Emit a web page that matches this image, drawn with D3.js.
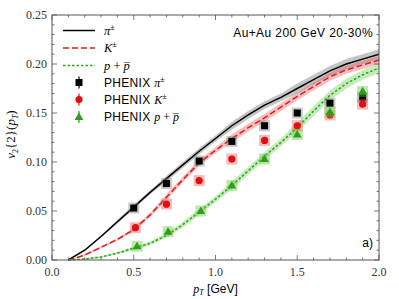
<!DOCTYPE html>
<html>
<head>
<meta charset="utf-8">
<script src="https://cdn.jsdelivr.net/npm/d3@7"></script>
<style>
  body { margin: 0; background: #fff; }
  svg text { fill: #000; }
</style>
</head>
<body>
<div id="chart"></div>
<script>
//curve grid (pT in GeV)
var ptGrid = [0.1, 0.2, 0.3, 0.4, 0.5, 0.6, 0.7, 0.8, 0.9, 1.0, 1.1, 1.2, 1.3, 1.4, 1.5, 1.6, 1.7, 1.8, 1.9, 2.0];

//hydro curves
var pionCurve   = [0.000, 0.010, 0.024, 0.039, 0.054, 0.069, 0.083, 0.097, 0.111, 0.124, 0.137, 0.148, 0.158, 0.166, 0.175, 0.184, 0.193, 0.200, 0.205, 0.210];
var kaonCurve   = [0.000, 0.005, 0.013, 0.021, 0.031, 0.046, 0.064, 0.082, 0.099, 0.112, 0.124, 0.135, 0.145, 0.156, 0.167, 0.177, 0.187, 0.194, 0.199, 0.204];
var protonCurve = [0.000, 0.001, 0.003, 0.007, 0.012, 0.017, 0.025, 0.036, 0.049, 0.062, 0.076, 0.091, 0.106, 0.120, 0.135, 0.152, 0.168, 0.180, 0.189, 0.196];

//band half widths
var pionBand   = [0.000, 0.001, 0.001, 0.002, 0.002, 0.002, 0.003, 0.003, 0.003, 0.003, 0.004, 0.004, 0.004, 0.004, 0.005, 0.005, 0.005, 0.005, 0.005, 0.005];
var kaonBand   = [0.000, 0.001, 0.001, 0.001, 0.002, 0.002, 0.003, 0.003, 0.003, 0.003, 0.004, 0.004, 0.004, 0.004, 0.004, 0.004, 0.004, 0.004, 0.004, 0.004];
var protonBand = [0.000, 0.001, 0.001, 0.001, 0.002, 0.002, 0.002, 0.003, 0.003, 0.003, 0.004, 0.004, 0.004, 0.004, 0.005, 0.005, 0.005, 0.005, 0.005, 0.005];

//PHENIX data
var pionPt   = [0.50, 0.70, 0.90, 1.10, 1.30, 1.50, 1.70, 1.90];
var pionV2   = [0.053, 0.078, 0.101, 0.121, 0.137, 0.150, 0.160, 0.166];
var kaonPt   = [0.51, 0.70, 0.90, 1.10, 1.30, 1.50, 1.70, 1.90];
var kaonV2   = [0.033, 0.057, 0.081, 0.103, 0.122, 0.137, 0.148, 0.159];
var protonPt = [0.52, 0.71, 0.91, 1.10, 1.30, 1.50, 1.70, 1.90];
var protonV2 = [0.014, 0.029, 0.050, 0.076, 0.103, 0.128, 0.151, 0.172];

//axis ticks
var xTicks = [0.0, 0.5, 1.0, 1.5, 2.0];
var yTicks = [0.00, 0.05, 0.10, 0.15, 0.20, 0.25];

var margin = {top: 15, right: 20, bottom: 39, left: 52};
var width = 399 - margin.left - margin.right;
var height = 299 - margin.top - margin.bottom;

var svg = d3.select("#chart").append("svg")
    .attr("width", 399)
    .attr("height", 299)
    .append("g")
    .attr("transform", "translate(" + margin.left + "," + margin.top + ")");

var x = d3.scaleLinear().domain([0, 2]).range([0, width]);
var y = d3.scaleLinear().domain([0, 0.25]).range([height, 0]);

var serif = "'Liberation Serif', 'DejaVu Serif', serif";
var sans = "'Liberation Sans', 'DejaVu Sans', sans-serif";

//curves with bands
var series = [
    {v: pionCurve, b: pionBand, color: "#000", band: "rgba(90,90,90,0.35)", dash: null, w: 1.5},
    {v: kaonCurve, b: kaonBand, color: "#dd1c1c", band: "rgba(230,70,70,0.35)", dash: "6,3", w: 1.5},
    {v: protonCurve, b: protonBand, color: "#33a51f", band: "rgba(90,200,60,0.35)", dash: "2.5,2", w: 1.6}
];

series.forEach(function(s) {
    var pts = ptGrid.map(function(p, i) { return {p: p, v: s.v[i], b: s.b[i]}; });
    svg.append("path")
        .datum(pts)
        .attr("fill", s.band)
        .attr("d", d3.area()
            .x(function(d) { return x(d.p); })
            .y0(function(d) { return y(d.v - d.b); })
            .y1(function(d) { return y(d.v + d.b); }));
    svg.append("path")
        .datum(pts)
        .attr("fill", "none")
        .attr("stroke", s.color)
        .attr("stroke-width", s.w)
        .attr("stroke-dasharray", s.dash)
        .attr("d", d3.line()
            .x(function(d) { return x(d.p); })
            .y(function(d) { return y(d.v); }));
});

//data points with systematic boxes
var dataSets = [
    {pt: pionPt, v: pionV2, box: "rgba(120,120,120,0.4)", color: "#000", shape: "square"},
    {pt: kaonPt, v: kaonV2, box: "rgba(230,80,80,0.38)", color: "#e01010", shape: "circle"},
    {pt: protonPt, v: protonV2, box: "rgba(100,200,70,0.42)", color: "#2f9e1a", shape: "triangle"}
];

function marker(g, shape, cx, cy, color) {
    if (shape == "square") {
        g.append("rect").attr("x", cx - 3.5).attr("y", cy - 3.5)
            .attr("width", 7).attr("height", 7).attr("fill", color);
    } else if (shape == "circle") {
        g.append("circle").attr("cx", cx).attr("cy", cy).attr("r", 3.6).attr("fill", color);
    } else {
        g.append("path")
            .attr("d", d3.symbol().type(d3.symbolTriangle).size(34)())
            .attr("transform", "translate(" + cx + "," + (cy + 0.5) + ")")
            .attr("fill", color);
    }
}

dataSets.forEach(function(s) {
    var g = svg.append("g");
    s.pt.forEach(function(p, i) {
        g.append("rect")
            .attr("x", x(p) - 5.5)
            .attr("y", y(s.v[i]) - 5.5)
            .attr("width", 11)
            .attr("height", 11)
            .attr("fill", s.box);
    });
    s.pt.forEach(function(p, i) {
        marker(g, s.shape, x(p), y(s.v[i]), s.color);
    });
});

//frame and ticks
var frameColor = "#555";
svg.append("rect")
    .attr("width", width).attr("height", height)
    .attr("fill", "none").attr("stroke", frameColor).attr("stroke-width", 1);

var ticks = svg.append("g").attr("stroke", frameColor).attr("stroke-width", 0.8);
d3.range(0, 2.0001, 0.1).forEach(function(t) {
    var major = Math.abs(t * 2 - Math.round(t * 2)) < 1e-6;
    var len = major ? 5 : 2.5;
    ticks.append("line").attr("x1", x(t)).attr("x2", x(t)).attr("y1", height).attr("y2", height - len);
    ticks.append("line").attr("x1", x(t)).attr("x2", x(t)).attr("y1", 0).attr("y2", len);
});
d3.range(0, 0.25001, 0.01).forEach(function(t) {
    var major = Math.abs(t * 20 - Math.round(t * 20)) < 1e-6;
    var len = major ? 5 : 2.5;
    ticks.append("line").attr("x1", 0).attr("x2", len).attr("y1", y(t)).attr("y2", y(t));
    ticks.append("line").attr("x1", width).attr("x2", width - len).attr("y1", y(t)).attr("y2", y(t));
});

//tick labels
svg.selectAll(".xt").data(xTicks).enter().append("text")
    .attr("x", function(d) { return x(d); })
    .attr("y", height + 16)
    .attr("text-anchor", "middle")
    .style("font-family", serif).style("font-size", "12px")
    .style("fill", "#333")
    .text(function(d) { return d.toFixed(1); });

svg.selectAll(".yt").data(yTicks).enter().append("text")
    .attr("x", -5)
    .attr("y", function(d) { return y(d) + 4; })
    .attr("text-anchor", "end")
    .style("font-family", serif).style("font-size", "12px")
    .style("fill", "#333")
    .text(function(d) { return d.toFixed(2); });

//axis labels
var xl = svg.append("text")
    .attr("x", width / 2).attr("y", height + 33)
    .attr("text-anchor", "middle")
    .style("font-size", "12px");
xl.append("tspan").style("font-family", serif).style("font-style", "italic").text("p");
xl.append("tspan").style("font-family", serif).style("font-style", "italic").style("font-size", "8px").attr("dy", 2).text("T");
xl.append("tspan").style("font-family", sans).style("font-size", "12px").attr("dy", -2).text(" [GeV]");

var yl = svg.append("text")
    .attr("transform", "translate(" + (-37) + "," + (height / 2 - 3) + ") rotate(-90)")
    .attr("text-anchor", "middle")
    .style("font-family", serif).style("font-size", "13px");
yl.append("tspan").style("font-style", "italic").text("v");
yl.append("tspan").style("font-size", "8px").attr("dy", 3).text("2");
yl.append("tspan").attr("dy", -3).text("{2}(");
yl.append("tspan").style("font-style", "italic").text("p");
yl.append("tspan").style("font-style", "italic").style("font-size", "8px").attr("dy", 3).text("T");
yl.append("tspan").attr("dy", -3).text(")");

//annotations
svg.append("text")
    .attr("x", width - 6).attr("y", 22)
    .attr("text-anchor", "end")
    .style("font-family", sans).style("font-size", "12px")
    .style("letter-spacing", "0.4px")
    .text("Au+Au 200 GeV 20-30%");

svg.append("text")
    .attr("x", width - 6).attr("y", height - 13)
    .attr("text-anchor", "end")
    .style("font-family", sans).style("font-size", "12px")
    .text("a)");

//legend
var legend = svg.append("g").attr("transform", "translate(11,0)");
var legRows = [15.5, 33, 50.5, 67.5, 84.5, 102];
var legTextX = 41;

function mathLabel(t, parts) {
    parts.forEach(function(p) {
        var ts = t.append("tspan").text(p.s);
        if (p.font) ts.style("font-family", p.font);
        if (p.italic) ts.style("font-style", "italic");
        if (p.sup) ts.style("font-size", "8px").attr("dy", -5);
    });
}

var pi = [{s: "\u03C0", italic: true, font: serif}, {s: "\u00B1", sup: true, font: serif}];
var ka = [{s: "K", italic: true, font: serif}, {s: "\u00B1", sup: true, font: serif}];
var pr = [{s: "p", italic: true, font: serif}, {s: " + ", font: serif}, {s: "p\u0305", italic: true, font: serif}];

series.forEach(function(s, i) {
    legend.append("line")
        .attr("x1", 0).attr("x2", 32)
        .attr("y1", legRows[i]).attr("y2", legRows[i])
        .attr("stroke", s.color).attr("stroke-width", s.w)
        .attr("stroke-dasharray", s.dash);
    var t = legend.append("text")
        .attr("x", legTextX).attr("y", legRows[i] + 4)
        .style("font-size", "12.5px");
    mathLabel(t, [pi, ka, pr][i]);
});

dataSets.forEach(function(s, i) {
    var cy = legRows[i + 3];
    legend.append("line")
        .attr("x1", 16).attr("x2", 16)
        .attr("y1", cy - 6).attr("y2", cy + 6)
        .attr("stroke", s.color).attr("stroke-width", 1.2);
    marker(legend, s.shape, 16, cy, s.color);
    var t = legend.append("text")
        .attr("x", legTextX).attr("y", cy + 4)
        .style("font-size", "12px");
    t.append("tspan").style("font-family", sans).style("font-size", "12px")
        .style("letter-spacing", "0.3px").text("PHENIX ");
    mathLabel(t, [pi, ka, pr][i]);
});
</script>
</body>
</html>
